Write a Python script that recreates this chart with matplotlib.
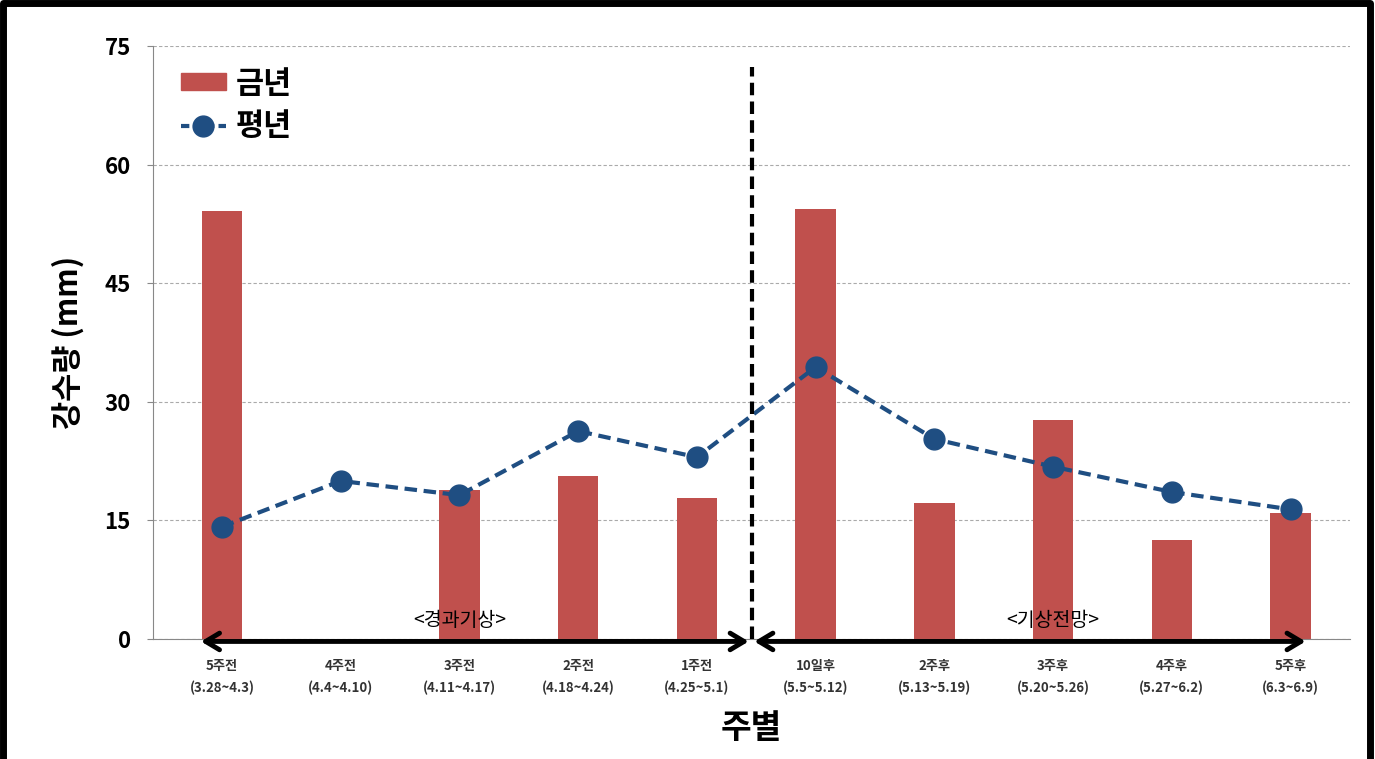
import matplotlib.pyplot as plt
import numpy as np
from matplotlib.patches import FancyArrowPatch
from matplotlib.lines import Line2D

plt.rcParams['font.family'] = ['Noto Sans CJK KR', 'DejaVu Sans']

# data
weeks = ['5주전', '4주전', '3주전', '2주전', '1주전', '10일후', '2주후', '3주후', '4주후', '5주후']
periods = ['(3.28~4.3)', '(4.4~4.10)', '(4.11~4.17)', '(4.18~4.24)', '(4.25~5.1)',
           '(5.5~5.12)', '(5.13~5.19)', '(5.20~5.26)', '(5.27~6.2)', '(6.3~6.9)']
this_year = [54.1, 0, 18.8, 20.6, 17.8, 54.4, 17.2, 27.7, 12.5, 15.9]
normal = [14.2, 20.0, 18.2, 26.3, 23.0, 34.4, 25.3, 21.8, 18.6, 16.4]
yticks = [0, 15, 30, 45, 60, 75]

bar_color = '#C0504D'
line_color = '#1F4E82'

fig = plt.figure(figsize=(13.75, 7.59), dpi=100)
ax = fig.add_axes([0.1113, 0.158, 0.8705, 0.7814])

x = np.arange(len(weeks))
ax.bar(x, this_year, width=0.34, color=bar_color, zorder=2)
ax.plot(x, normal, color=line_color, lw=3, ls=(0, (3, 1.6)), marker='o',
        markersize=15, zorder=3)

ax.set_xlim(-0.58, 9.5)
ax.set_ylim(0, 75)
ax.set_yticks(yticks)
ax.set_yticklabels([str(v) for v in yticks], fontsize=16, fontweight='bold')
ax.set_xticks(x)
ax.set_xticklabels([w + '\n' + p for w, p in zip(weeks, periods)],
                   fontsize=9.5, fontweight='bold', color='#333333', linespacing=1.7)
ax.tick_params(axis='x', length=0, pad=14)
ax.tick_params(axis='y', length=4, color='#888888', pad=12)
ax.grid(axis='y', ls=(0, (3, 2)), color='#aaaaaa', lw=0.8, zorder=0)
for s in ['top', 'right']:
    ax.spines[s].set_visible(False)
ax.spines['left'].set_color('#888888')
ax.spines['bottom'].set_color('#888888')

ax.set_ylabel('강수량 (mm)', fontsize=22, fontweight='heavy', labelpad=14)
ax.set_xlabel('주별', fontsize=24, fontweight='heavy', labelpad=12)

# divider and period arrows
ax.plot([4.46, 4.46], [0, 72.3], color='black', lw=3, ls=(0, (3, 1.5)), zorder=4, clip_on=False)
for x0, x1 in [(-0.2, 4.46), (4.46, 9.15)]:
    arr = FancyArrowPatch((x0, -0.3), (x1, -0.3), arrowstyle='<->,head_length=10,head_width=6',
                          lw=3.5, color='black', mutation_scale=1, clip_on=False, zorder=5)
    ax.add_patch(arr)
ax.text(2.0, 2.3, '<경과기상>', ha='center', va='center', fontsize=14, fontweight='medium')
ax.text(7.0, 2.3, '<기상전망>', ha='center', va='center', fontsize=14, fontweight='medium')

handles = [plt.Rectangle((0, 0), 1, 1, color=bar_color),
           Line2D([], [], color=line_color, lw=3, ls=(0, (2, 1)), marker='o', markersize=15)]
leg = ax.legend(handles, ['금년', '평년'], loc='upper left', bbox_to_anchor=(0.0, 1.01),
                frameon=False, prop={'size': 22, 'weight': 'heavy'}, handlelength=1.5,
                handleheight=0.45, handletextpad=0.3, labelspacing=0.35)

# figure border (top, left, right)
fig.add_artist(Line2D([0.002, 0.002, 0.996, 0.996], [0, 0.996, 0.996, 0],
                      transform=fig.transFigure, color='black', lw=5))

fig.savefig('out.png', dpi=100)
